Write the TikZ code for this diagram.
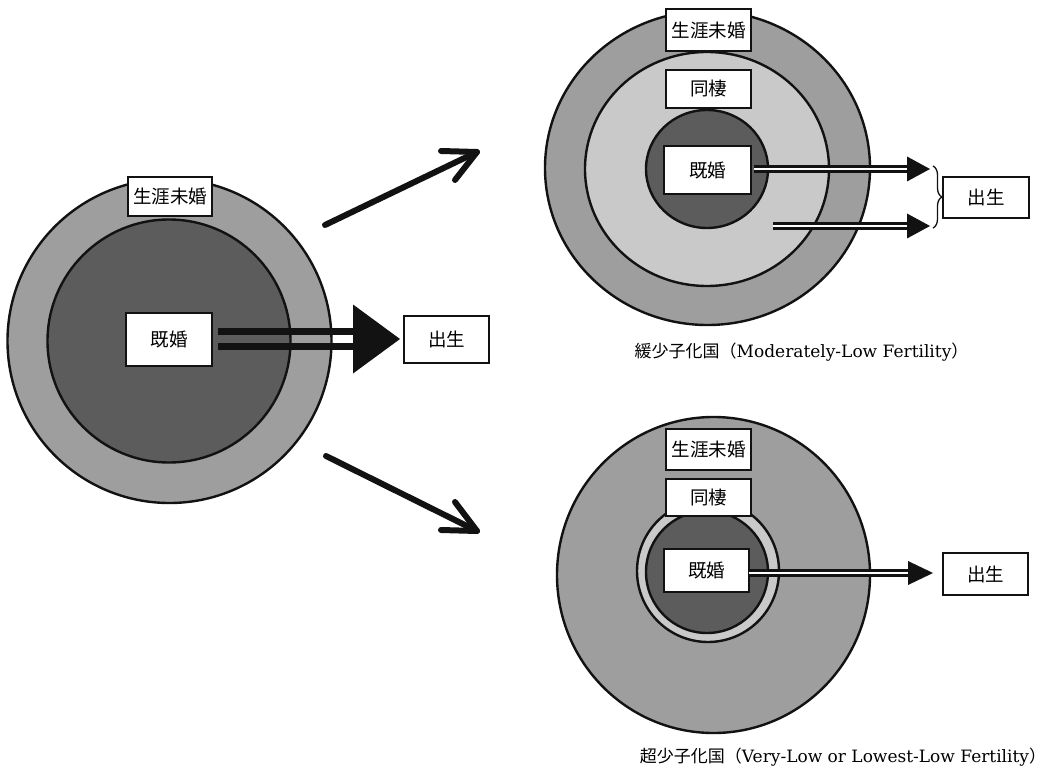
\documentclass[tikz,border=0pt]{standalone}
\usepackage{fontspec}
\newfontfamily\cjk{Noto Sans CJK JP}
\newfontfamily\capfont{DejaVu Serif}
\usetikzlibrary{decorations.pathreplacing}
\definecolor{ringgray}{gray}{0.62}
\definecolor{coregray}{gray}{0.36}
\definecolor{palegray}{gray}{0.79}
\definecolor{ink}{gray}{0.07}
\begin{document}
\begin{tikzpicture}[x=1pt,y=-1pt,
 lbl/.style={draw=ink, line width=1.8pt, fill=white, inner sep=0pt, font=\cjk\fontsize{18.5}{18.5}\selectfont},
 ring/.style={draw=ink, line width=2.4pt},
 dbl/.style={draw=ink, line width=3pt, double=white, double distance=2.5pt},
 head/.style={fill=ink},
 bar/.style={draw=ink, line width=7pt},
 fat/.style={draw=ink, line width=6pt, line cap=round, line join=round},
 caption/.style={font=\capfont\fontsize{17}{19}\selectfont, inner sep=0pt}]
\useasboundingbox (0,0) rectangle (1057,767);

% ---------- left diagram ----------
\draw[ring, fill=ringgray] (169.5,341) circle[radius=162];
\draw[ring, fill=coregray] (169,341) circle[radius=121.5];
\node[lbl, minimum width=84pt, minimum height=39pt] (Lsm) at (170,196.5) {生涯未婚};
\node[lbl, minimum width=86pt, minimum height=53pt] (Lkh) at (169,339.5) {既婚};
\node[lbl, minimum width=85pt, minimum height=47pt] (Lbr) at (446.5,339.5) {出生};
\coordinate (Ls) at (218,339);
\coordinate (LhB) at (353,339);
\coordinate (LhT) at (400,339);
\draw[bar] ([yshift=7.5pt]Ls) -- ([yshift=7.5pt]LhB);
\draw[bar] ([yshift=-7.5pt]Ls) -- ([yshift=-7.5pt]LhB);
\fill[head] (LhT) -- ([yshift=34.5pt]LhB) -- ([yshift=-34.5pt]LhB) -- cycle;

% diagonal arrows
\coordinate (U0) at (325,225);
\coordinate (U1) at (477,152);
\coordinate (Ua) at (441,151);
\coordinate (Ub) at (455,180);
\draw[fat] (U0) -- (U1);
\draw[fat] (Ua) -- (U1) -- (Ub);
\coordinate (D0) at (326,456);
\coordinate (D1) at (477,531);
\coordinate (Da) at (441,530);
\coordinate (Db) at (455,502);
\draw[fat] (D0) -- (D1);
\draw[fat] (Da) -- (D1) -- (Db);

% ---------- top right diagram ----------
\draw[ring, fill=ringgray] (707.5,168) ellipse[x radius=162.5, y radius=157];
\draw[ring, fill=palegray] (707,169) ellipse[x radius=122, y radius=117];
\draw[ring, fill=coregray] (707,169) ellipse[x radius=61, y radius=59];
\node[lbl, minimum width=85pt, minimum height=42pt] (Tsm) at (708.5,30) {生涯未婚};
\node[lbl, minimum width=85pt, minimum height=38pt] (Tdo) at (708.5,89) {同棲};
\node[lbl, minimum width=87pt, minimum height=48pt] (Tkh) at (707.5,170) {既婚};
\node[lbl, minimum width=86pt, minimum height=41pt] (Tbr) at (986,197.5) {出生};
\coordinate (T1s) at (754,169);
\coordinate (T1b) at (907,169);
\coordinate (T1t) at (930,169);
\draw[dbl] (T1s) -- (T1b);
\fill[head] (T1t) -- ([yshift=12.5pt]T1b) -- ([yshift=-12.5pt]T1b) -- cycle;
\coordinate (T2s) at (773,226);
\coordinate (T2b) at (907,226);
\coordinate (T2t) at (930,226);
\draw[dbl] (T2s) -- (T2b);
\fill[head] (T2t) -- ([yshift=12.5pt]T2b) -- ([yshift=-12.5pt]T2b) -- cycle;
\coordinate (Br1) at (933,166);
\coordinate (Br2) at (933,228);
\draw[ink, line width=1.3pt, decorate, decoration={brace, amplitude=9pt}] (Br1) -- (Br2);
\node[caption] (Tcap) at (801.5,352) {{\cjk 緩少子化国（}Moderately-Low Fertility{\cjk ）}};

% ---------- bottom right diagram ----------
\draw[ring, fill=ringgray] (713.5,575) ellipse[x radius=156.5, y radius=158];
\draw[ring, fill=palegray] (708,571) circle[radius=71];
\draw[ring, fill=coregray] (707,572) circle[radius=61];
\node[lbl, minimum width=85pt, minimum height=41pt] (Bsm) at (708.5,449.5) {生涯未婚};
\node[lbl, minimum width=85pt, minimum height=37pt] (Bdo) at (708.5,497.5) {同棲};
\node[lbl, minimum width=85pt, minimum height=43pt] (Bkh) at (706.5,570.5) {既婚};
\node[lbl, minimum width=85pt, minimum height=42pt] (Bbr) at (985.5,574) {出生};
\coordinate (B1s) at (749,573);
\coordinate (B1b) at (908,573);
\coordinate (B1t) at (933,573);
\draw[dbl] (B1s) -- (B1b);
\fill[head] (B1t) -- ([yshift=12pt]B1b) -- ([yshift=-12pt]B1b) -- cycle;
\node[caption] (Bcap) at (843,757) {{\cjk 超少子化国（}Very-Low or Lowest-Low Fertility{\cjk ）}};
\end{tikzpicture}
\end{document}
